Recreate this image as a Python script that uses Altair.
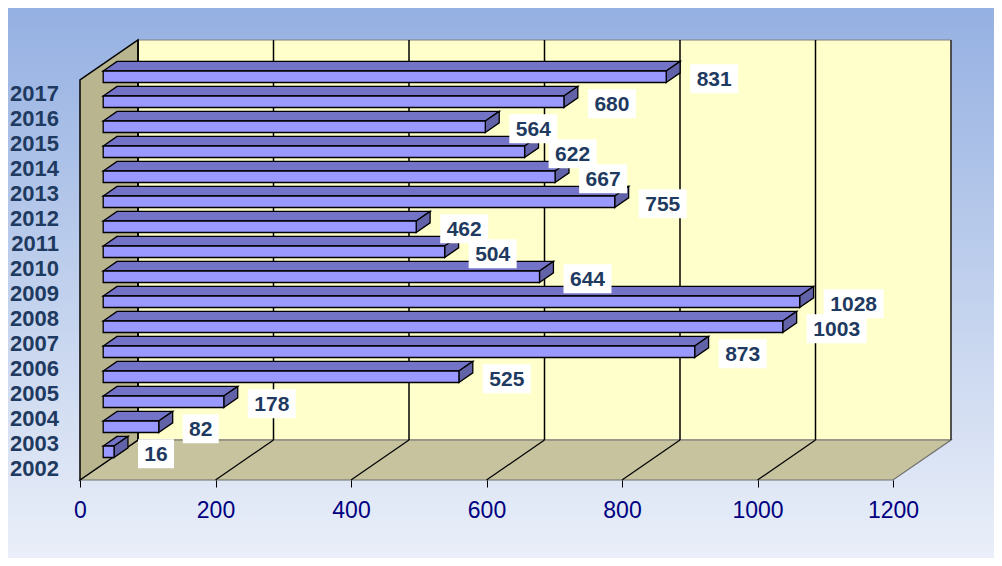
import altair as alt
import pandas as pd

# ---- data ----
years = [2002, 2003, 2004, 2005, 2006, 2007, 2008, 2009,
         2010, 2011, 2012, 2013, 2014, 2015, 2016, 2017]
values = [16, 82, 178, 525, 873, 1003, 1028, 644,
          504, 462, 755, 667, 622, 564, 680, 831]
x_ticks = [0, 200, 400, 600, 800, 1000, 1200]

# ---- geometry (scale units) ----
PX_PER_UNIT = 813 / 1200.0          # x: value units -> px
ROW_PX = 25.0                        # y: one category row in px
W, H = 873, 440
XMAX = W / PX_PER_UNIT
YMAX = H / ROW_PX
D = 58 / PX_PER_UNIT                 # full depth shift in x (units)
DY = 40 / ROW_PX                     # full depth shift in y (rows)
NROWS = len(years)
F0, F1 = 0.40, 0.64                  # bar front / back depth fractions
B_LO, B_HI = 0.26, 0.72              # bar vertical extent within row (front plane)

xs = alt.Scale(domain=[0, XMAX], nice=False, zero=False)
ys = alt.Scale(domain=[0, YMAX], nice=False, zero=False)

FONT = "Liberation Sans"

X_AXIS = alt.Axis(values=x_ticks, format="d", domain=False, grid=False,
                  ticks=True, tickSize=7, tickColor="#000000", tickWidth=1,
                  labelFont=FONT, labelFontSize=23, labelColor="#000080",
                  labelPadding=12, labelFlush=False, labelOverlap=False, title=None, zindex=2)


def X(f):
    return alt.X(f, scale=xs, title=None)


def Y(f):
    return alt.Y(f, scale=ys, title=None)


# ---- background gradient ----
bg = alt.Chart(pd.DataFrame({"a": [0]})).mark_rect(
    fill=alt.LinearGradient(
        gradient="linear",
        stops=[alt.GradientStop(color="#95b0e2", offset=0),
               alt.GradientStop(color="#c4d3ee", offset=0.55),
               alt.GradientStop(color="#eaeff9", offset=1)],
        x1=0, x2=0, y1=0, y2=1),
).encode(x=alt.value(-72), x2=alt.value(W + 41), y=alt.value(-32), y2=alt.value(H + 78))

# ---- walls (this layer carries the x axis) ----
back = alt.Chart(pd.DataFrame({"x": [D], "x2": [1200 + D], "y": [DY], "y2": [NROWS + DY]})).mark_rect(
    fill="#ffffcc", stroke="#808080", strokeWidth=1
).encode(x=alt.X("x:Q", scale=xs, axis=X_AXIS, title=None), x2="x2:Q",
         y=alt.Y("y:Q", scale=ys, axis=None, title=None), y2="y2:Q")

left_wall = alt.Chart(pd.DataFrame({"x": [0, D], "y": [0, DY], "y2": [NROWS, NROWS + DY]})).mark_area(
    fill="#b9b58f", stroke="#000000", strokeWidth=1.5, orient="vertical"
).encode(x=X("x:Q"), y=Y("y:Q"), y2="y2:Q")

floor = alt.Chart(pd.DataFrame({"y": [0, DY], "x": [0, D], "x2": [1200, 1200 + D]})).mark_area(
    fill="#c6c39e", stroke="#6f6f6f", strokeWidth=1.2, orient="horizontal"
).encode(y=Y("y:Q"), x=X("x:Q"), x2="x2:Q")

# gridlines on floor (diagonals) and back wall (verticals)
diag_rows = []
for v in x_ticks[1:-1]:
    diag_rows += [{"g": v, "x": v, "y": 0}, {"g": v, "x": v + D, "y": DY}]
diags = alt.Chart(pd.DataFrame(diag_rows)).mark_line(color="#000000", strokeWidth=1.2).encode(
    x=X("x:Q"), y=Y("y:Q"), detail="g:N")

vert = alt.Chart(pd.DataFrame({"x": [v + D for v in x_ticks[:-1]],
                               "y": [DY] * (len(x_ticks) - 1),
                               "y2": [NROWS + DY] * (len(x_ticks) - 1)})).mark_rule(
    color="#000000", strokeWidth=1.5).encode(x=X("x:Q"), y=Y("y:Q"), y2="y2:Q")

right_edge = alt.Chart(pd.DataFrame({"x": [1200 + D], "y": [DY], "y2": [NROWS + DY]})).mark_rule(
    color="#303030", strokeWidth=1.5).encode(x=X("x:Q"), y=Y("y:Q"), y2="y2:Q")

# ---- category labels (front plane, row centres) ----
cat_df = pd.DataFrame({"label": [str(y) for y in years],
                       "y": [i + 0.5 for i in range(NROWS)],
                       "x": [0] * NROWS})
cats = alt.Chart(cat_df).mark_text(
    font=FONT, fontSize=22, fontWeight="bold", color="#1f3a60",
    align="right", baseline="middle", dx=-21, dy=1
).encode(x=X("x:Q"), y=Y("y:Q"), text="label:N")

# ---- bars ----
front_rows, top_rows, side_rows, lab_rows = [], [], [], []
for i, (yr, v) in enumerate(zip(years, values)):
    x0 = F0 * D
    x1 = v + F0 * D
    yb = i + B_LO + F0 * DY
    yt = i + B_HI + F0 * DY
    sx = (F1 - F0) * D
    sy = (F1 - F0) * DY
    front_rows.append({"year": yr, "x": x0, "x2": x1, "y": yb, "y2": yt})
    top_rows += [{"year": yr, "y": yt, "x": x0, "x2": x1},
                 {"year": yr, "y": yt + sy, "x": x0 + sx, "x2": x1 + sx}]
    side_rows += [{"year": yr, "x": x1, "y": yb, "y2": yt},
                  {"year": yr, "x": x1 + sx, "y": yb + sy, "y2": yt + sy}]
    txt = str(v)
    wpx = 12 + 12 * len(txt)
    lx = x1 + 24 / PX_PER_UNIT
    cy = (yb + yt) / 2 - 0.08
    lab_rows.append({"year": yr, "label": txt, "x": lx, "x2": lx + wpx / PX_PER_UNIT,
                     "xc": lx + wpx / PX_PER_UNIT / 2,
                     "y": cy - 14.5 / ROW_PX, "y2": cy + 14.5 / ROW_PX, "yc": cy})

BAR_STROKE = dict(stroke="#000000", strokeWidth=1.3)

tops = alt.Chart(pd.DataFrame(top_rows)).mark_area(
    fill="#7373c8", orient="horizontal", **BAR_STROKE).encode(
    y=Y("y:Q"), x=X("x:Q"), x2="x2:Q", detail="year:N")

sides = alt.Chart(pd.DataFrame(side_rows)).mark_area(
    fill="#6262a8", orient="vertical", **BAR_STROKE).encode(
    x=X("x:Q"), y=Y("y:Q"), y2="y2:Q", detail="year:N")

fronts = alt.Chart(pd.DataFrame(front_rows)).mark_rect(
    fill="#9999ff", **BAR_STROKE).encode(x=X("x:Q"), x2="x2:Q", y=Y("y:Q"), y2="y2:Q")

lab_df = pd.DataFrame(lab_rows)
lab_box = alt.Chart(lab_df).mark_rect(fill="#ffffff").encode(
    x=X("x:Q"), x2="x2:Q", y=Y("y:Q"), y2="y2:Q")
lab_txt = alt.Chart(lab_df).mark_text(
    font=FONT, fontSize=21, fontWeight="bold", color="#1f3a60", baseline="middle", align="center", dy=1
).encode(x=X("xc:Q"), y=Y("yc:Q"), text="label:N")

chart = alt.layer(
    bg, back, floor, left_wall, diags, vert, right_edge, cats,
    tops, sides, fronts, lab_box, lab_txt
).properties(
    width=W, height=H,
    autosize=alt.AutoSizeParams(type="none"),
    padding={"left": 72, "top": 32, "right": 41, "bottom": 78},
).configure_view(stroke=None).configure(background="#ffffff")

chart.save("out.html", embed_options={"renderer": "svg", "actions": False})
